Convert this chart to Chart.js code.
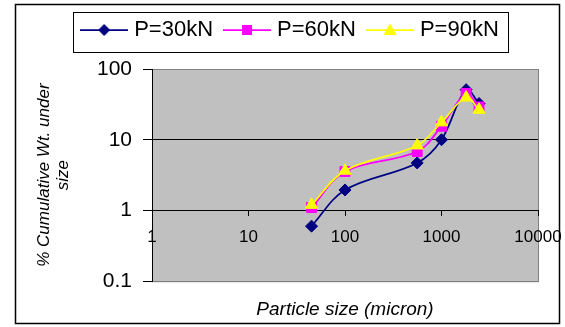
<!DOCTYPE html>
<html>
<head>
<meta charset="utf-8">
<script src="https://cdn.jsdelivr.net/npm/chart.js@4.4.1/dist/chart.umd.min.js"></script>
<style>
  body { margin: 0; background: #fff; }
  #graf { display: block; }
</style>
</head>
<body>
<canvas id="graf" width="565" height="327"></canvas>
<script>
// particle size (micron) and cumulative weight undersize (%)
const sizes = [45, 100, 560, 1000, 1800, 2450];
const p30 = [0.6, 1.95, 4.7, 10, 51, 32.5];
const p60 = [1.1, 3.55, 6.8, 15.5, 45, 29];
const p90 = [1.2, 3.65, 8.3, 17.6, 39.5, 26.6];
const seriesNames = ['P=30kN', 'P=60kN', 'P=90kN'];
const xTicks = [1, 10, 100, 1000, 10000];
const yTicks = [0.1, 1, 10, 100];

Chart.defaults.font.family = 'Arial, "Liberation Sans", sans-serif';
Chart.defaults.color = '#000';

function pts(ys) {
    return sizes.map((s, i) => ({ x: s, y: ys[i] }));
}

// little line+marker swatch for the legend
function icon(color, shape) {
    const c = document.createElement('canvas');
    c.width = 48; c.height = 16;
    const g = c.getContext('2d');
    g.strokeStyle = color;
    g.lineWidth = 1.75;
    g.beginPath(); g.moveTo(0, 8); g.lineTo(48, 8); g.stroke();
    g.fillStyle = color;
    g.beginPath();
    if (shape == 'diamond') {
        g.moveTo(24, 2); g.lineTo(30, 8); g.lineTo(24, 14); g.lineTo(18, 8);
    } else if (shape == 'square') {
        g.rect(19, 3, 10, 10);
    } else {
        g.moveTo(24, 1.5); g.lineTo(30.5, 13); g.lineTo(17.5, 13);
    }
    g.closePath();
    g.fill();
    return c;
}
const icons = [icon('#000080', 'diamond'), icon('#FF00FF', 'square'), icon('#FFFF00', 'tri')];

const frame = {
    id: 'frame',
    beforeDraw(chart) {
        const a = chart.chartArea, c = chart.ctx;
        c.save();
        c.fillStyle = '#C0C0C0';
        c.fillRect(a.left, a.top, a.right - a.left, a.bottom - a.top);
        c.strokeStyle = '#808080';
        c.lineWidth = 1;
        c.strokeRect(a.left + 0.5, a.top + 0.5, a.right - a.left, a.bottom - a.top);
        c.restore();
    },
    afterDraw(chart) {
        const c = chart.ctx;
        const hb = chart.legend.legendHitBoxes;
        c.save();
        c.strokeStyle = '#000';
        c.lineWidth = 1;
        if (hb && hb.length) {
            const l = hb[0].left - 12;
            const last = hb[hb.length - 1];
            const r = last.left + last.width + 9;
            const t = hb[0].top - 7;
            const b = hb[0].top + hb[0].height + 11;
            c.strokeRect(Math.round(l) + 0.5, Math.round(t) + 0.5, Math.round(r - l), Math.round(b - t));
        }
        c.lineWidth = 1.5;
        c.strokeRect(15.5, 4.5, 544, 319);
        c.restore();
    }
};

const ctx = document.getElementById('graf').getContext('2d');

const grafico = new Chart(ctx, {
    type: 'line',
    data: {
        datasets: [{
            label: seriesNames[0],
            data: pts(p30),
            borderColor: '#000080',
            backgroundColor: '#000080',
            pointStyle: 'rectRot',
            pointRadius: 6,
            order: 3
        },
        {
            label: seriesNames[1],
            data: pts(p60),
            borderColor: '#FF00FF',
            backgroundColor: '#FF00FF',
            pointStyle: 'rect',
            pointRadius: 7,
            order: 2
        },
        {
            label: seriesNames[2],
            data: pts(p90),
            borderColor: '#FFFF00',
            backgroundColor: '#FFFF00',
            pointStyle: 'triangle',
            pointRadius: 7,
            order: 1
        }]
    },
    options: {
        responsive: false,
        animation: false,
        layout: { padding: { left: 46, right: 27, top: 4, bottom: 4 } },
        elements: {
            line: { borderWidth: 1.75, tension: 0.35 },
            point: { borderWidth: 1, hoverRadius: 7 }
        },
        scales: {
            x: {
                type: 'logarithmic',
                min: 1,
                max: 10000,
                position: { y: 1 },
                afterBuildTicks: s => { s.ticks = xTicks.map(v => ({ value: v })); },
                afterFit: s => { s.paddingLeft = 0; s.paddingRight = 0; },
                ticks: {
                    callback: v => String(v),
                    font: { size: 17 },
                    padding: 12,
                    maxRotation: 0,
                    autoSkip: false
                },
                grid: { drawOnChartArea: false, tickLength: 5, tickColor: '#000' },
                border: { color: '#000', width: 1 }
            },
            y: {
                type: 'logarithmic',
                min: 0.1,
                max: 100,
                afterBuildTicks: s => { s.ticks = yTicks.map(v => ({ value: v })); },
                afterFit: s => { s.width = 152 - 46; },
                ticks: {
                    callback: v => String(v),
                    font: { size: 21 },
                    padding: 11
                },
                grid: {
                    color: c => (c.tick && (c.tick.value == 1 || c.tick.value == 10)) ? '#000' : '#808080',
                    tickColor: '#000',
                    tickLength: 9
                },
                border: { color: '#000', width: 1 },
                title: {
                    display: true,
                    text: ['% Cumulative Wt. under', 'size'],
                    font: { size: 17, style: 'italic', lineHeight: 1.1 },
                    padding: { top: -11, bottom: 0 }
                }
            }
        },
        plugins: {
            legend: {
                position: 'top',
                weight: 3000,
                labels: {
                    usePointStyle: true,
                    pointStyleWidth: 38,
                    padding: 15,
                    font: { size: 22 },
                    sort: (a, b) => a.datasetIndex - b.datasetIndex,
                    generateLabels: chart => {
                        const items = Chart.defaults.plugins.legend.labels.generateLabels(chart);
                        items.forEach(it => { it.pointStyle = icons[it.datasetIndex]; });
                        return items;
                    }
                }
            },
            subtitle: {
                display: true,
                text: '',
                font: { size: 10, lineHeight: 1.2 },
                padding: { top: 6, bottom: 0 }
            },
            title: {
                display: true,
                position: 'bottom',
                fullSize: false,
                text: 'Particle size (micron)',
                font: { size: 19, style: 'italic', weight: 'normal', lineHeight: 1.2 },
                padding: { top: 17, bottom: 2 }
            },
            tooltip: { enabled: false }
        }
    },
    plugins: [frame]
});
</script>
</body>
</html>
